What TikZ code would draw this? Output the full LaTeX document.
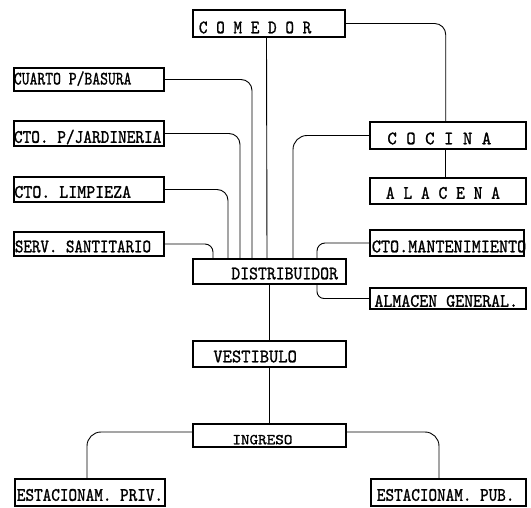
\documentclass[tikz,border=0pt]{standalone}
\usepackage{graphicx}
\usepackage{fontspec}
\newfontfamily\twfont{lmmono10-regular}[Extension=.otf, FakeBold=1.2]
\tikzset{
  box/.style={draw, line width=1.8pt, inner sep=0pt,
    font=\twfont\fontsize{19}{19}\selectfont, text height=11.6pt, text depth=0pt},
  conn/.style={line width=0.9pt, rounded corners=11pt},
}
\newcommand\lbl[6]{\makebox[#1pt][l]{\hspace*{#2pt}\raisebox{#3pt}{\scalebox{#4}[#5]{#6}}}}
\begin{document}
\begin{tikzpicture}[x=1pt,y=-1pt]
\useasboundingbox (0,0) rectangle (531,508);
% centre column
\node[box, minimum width=152.2pt, minimum height=27.2pt] (comedor) at (269,23.5)
  {\lbl{152.2}{6}{-4}{0.867}{1}{C O M E D O R}};
\node[box, minimum width=153.2pt, minimum height=25.2pt] (dist) at (269.5,271.5)
  {\lbl{153.2}{38.5}{-2}{0.89}{1}{DISTRIBUIDOR}};
\node[box, minimum width=153.2pt, minimum height=26.2pt] (vest) at (269.5,354)
  {\lbl{153.2}{20.5}{-2.5}{0.93}{1}{VESTIBULO}};
\node[box, minimum width=153.2pt, minimum height=23.2pt] (ingreso) at (269.5,435.5)
  {\lbl{153.2}{39.5}{-3}{0.86}{0.8}{INGRESO}};
% left column
\node[box, minimum width=150.2pt, minimum height=23.2pt] (cuarto) at (89,79.5)
  {\lbl{150.2}{0}{0.8}{0.786}{1}{CUARTO P/BASURA}};
\node[box, minimum width=150.2pt, minimum height=25.2pt] (jard) at (89,133.5)
  {\lbl{150.2}{0}{-3.5}{0.87}{1}{CTO. P/JARDINERIA}};
\node[box, minimum width=150.2pt, minimum height=25.2pt] (limp) at (89,189.5)
  {\lbl{150.2}{0.5}{-2.5}{0.90}{1}{CTO. LIMPIEZA}};
\node[box, minimum width=150.2pt, minimum height=24.2pt] (serv) at (89,244)
  {\lbl{150.2}{1}{-2.5}{0.853}{1}{SERV. SANTITARIO}};
% right column
\node[box, minimum width=156.2pt, minimum height=27.2pt] (cocina) at (448,135.5)
  {\lbl{156.2}{17.5}{-3}{0.947}{1}{C O C I N A}};
\node[box, minimum width=156.2pt, minimum height=26.2pt] (alacena) at (448,191)
  {\lbl{156.2}{16}{-2}{0.88}{1}{A L A C E N A}};
\node[box, minimum width=154.2pt, minimum height=26.2pt] (mant) at (447,243)
  {\lbl{154.2}{2}{-3.5}{0.91}{1}{CTO.MANTENIMIENTO}};
\node[box, minimum width=156.2pt, minimum height=21.2pt] (almacen) at (448,298.5)
  {\lbl{156.2}{4.5}{-2.5}{0.90}{1}{ALMACEN GENERAL.}};
% bottom
\node[box, minimum width=150.2pt, minimum height=27.2pt] (epriv) at (90,492.5)
  {\lbl{150.2}{2}{-2.5}{0.862}{1}{ESTACIONAM. PRIV.}};
\node[box, minimum width=155.2pt, minimum height=27.2pt] (epub) at (448.5,492.5)
  {\lbl{155.2}{6}{-2.5}{0.862}{1}{ESTACIONAM. PUB.}};
% connectors
\draw[conn] (cuarto.east) -| ([xshift=-17.5pt]dist.north);
\draw[conn] (jard.east) -| ([xshift=-29.5pt]dist.north);
\draw[conn] (limp.east) -| ([xshift=-41.5pt]dist.north);
\draw[conn, rounded corners=8pt] (serv.east) -| ([xshift=-56.5pt]dist.north);
\draw[conn] ([xshift=-2.5pt]comedor.south) -- ([xshift=-2.5pt]dist.north);
\draw[conn, rounded corners=14pt] (cocina.west) -| ([xshift=23.5pt]dist.north);
\draw[conn, rounded corners=8pt] (mant.west) -| ([xshift=47.5pt]dist.north);
\draw[conn, rounded corners=7pt] ([xshift=47.5pt]dist.south) |- (almacen.west);
\draw[conn] (comedor.east) -| ([xshift=-2.3pt]cocina.north);
\draw[conn] ([xshift=-2.3pt]cocina.south) -- ([xshift=-2.3pt]alacena.north);
\draw[conn] (dist.south) -- (vest.north);
\draw[conn] (vest.south) -- (ingreso.north);
\draw[conn, rounded corners=14pt] ([yshift=3.5pt]ingreso.west) -| ([xshift=-3pt]epriv.north);
\draw[conn, rounded corners=14pt] ([yshift=3.5pt]ingreso.east) -| ([xshift=-9.5pt]epub.north);
\end{tikzpicture}
\end{document}
